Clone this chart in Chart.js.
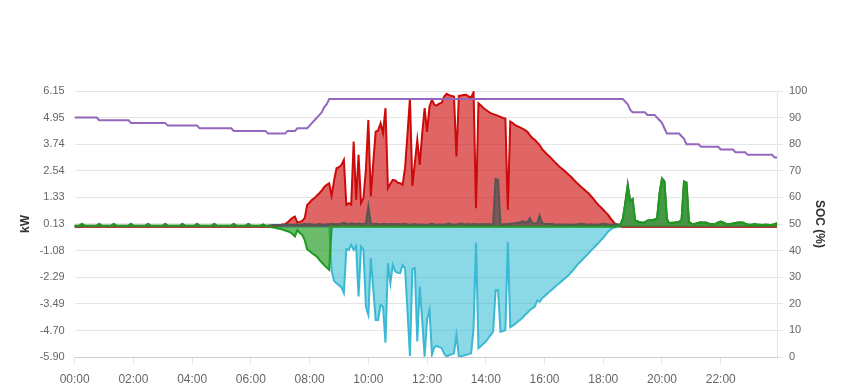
<!DOCTYPE html>
<html>
<head>
<meta charset="utf-8">
<script src="https://cdn.jsdelivr.net/npm/chart.js@4/dist/chart.umd.min.js"></script>
<style>
  html, body { margin: 0; padding: 0; background: #fff; }
</style>
</head>
<body>
<canvas id="chart" width="849" height="390"></canvas>
<script>
// 5 minute slots, 00:00 .. 23:55
const times = [];
for (let m = 0; m < 24 * 60; m += 5) {
    times.push(String(Math.floor(m / 60)).padStart(2, '0') + ':' + String(m % 60).padStart(2, '0'));
}

const hourTicks = ['00:00', '02:00', '04:00', '06:00', '08:00', '10:00', '12:00', '14:00', '16:00', '18:00', '20:00', '22:00'];
const kwTicks = [6.15, 4.95, 3.74, 2.54, 1.33, 0.13, -1.08, -2.29, -3.49, -4.70, -5.90];
const socTicks = [0, 10, 20, 30, 40, 50, 60, 70, 80, 90, 100];

// 电池 SOC (%)，一行一个小时
const soc = [
    90,90,90,90,90,90,90,90,90,90,89,89,
    89,89,89,89,89,89,89,89,89,89,89,88,
    88,88,88,88,88,88,88,88,88,88,88,88,
    88,88,87,87,87,87,87,87,87,87,87,87,
    87,87,87,86,86,86,86,86,86,86,86,86,
    86,86,86,86,86,85,85,85,85,85,85,85,
    85,85,85,85,85,85,85,84,84,84,84,84,
    84,84,84,85,85,85,85,86,86,86,86,86,
    87,88,89,90,91,92,94,95,97,97,97,97,
    97,97,97,97,97,97,97,97,97,97,97,97,
    97,97,97,97,97,97,97,97,97,97,97,97,
    97,97,97,97,97,97,97,97,97,97,97,97,
    97,97,97,97,97,97,97,97,97,97,97,97,
    97,97,97,97,97,97,97,97,97,97,97,97,
    97,97,97,97,97,97,97,97,97,97,97,97,
    97,97,97,97,97,97,97,97,97,97,97,97,
    97,97,97,97,97,97,97,97,97,97,97,97,
    97,97,97,97,97,97,97,97,97,97,97,97,
    97,97,97,97,97,97,97,97,97,96,95,93,
    92,92,92,92,92,92,91,91,91,91,90,89,
    88,86,84,84,84,84,84,84,83,82,80,80,
    80,80,80,80,79,79,79,79,79,79,79,79,
    78,78,78,78,78,78,77,77,77,77,77,76,
    76,76,76,76,76,76,76,76,76,76,75,75
];

// 光伏发电 (kW)
const pv = [
    0,0,0,0,0,0,0,0,0,0,0,0,
    0,0,0,0,0,0,0,0,0,0,0,0,
    0,0,0,0,0,0,0,0,0,0,0,0,
    0,0,0,0,0,0,0,0,0,0,0,0,
    0,0,0,0,0,0,0,0,0,0,0,0,
    0,0,0,0,0,0,0,0,0,0,0,0,
    0,0,0,0,0,0,0,0,0,0.02,0.04,0.06,
    0.07,0.1,0.12,0.2,0.31,0.4,0.46,0.19,0.22,0.26,0.39,0.99,
    1.1,1.22,1.3,1.42,1.52,1.65,1.8,1.9,1.97,1.4,2.1,2.65,
    2.7,2.8,3.03,0.99,1.07,1.0,3.86,1.22,3.26,1.07,1.3,2.58,
    4.84,1.37,2.9,4.31,4.36,4.69,4.24,5.37,1.75,1.95,2.12,2.1,
    2.0,1.97,1.9,2.65,4.2,5.83,1.85,2.9,3.94,2.8,4.2,5.37,
    4.3,5.45,5.75,5.52,5.5,5.58,5.62,5.9,6.02,5.96,5.93,5.9,
    3.18,5.93,5.95,5.97,5.98,5.9,5.85,6.1,0.84,5.6,5.5,5.38,
    5.3,5.22,5.15,5.1,5.07,5.02,4.98,4.93,4.9,0.77,4.77,4.7,
    4.6,4.55,4.5,4.45,4.38,4.3,4.15,4.02,3.94,3.82,3.7,3.52,
    3.4,3.28,3.18,3.07,2.95,2.84,2.73,2.64,2.55,2.45,2.35,2.24,
    2.12,2.01,1.9,1.8,1.71,1.61,1.52,1.39,1.26,1.12,0.99,0.88,
    0.77,0.65,0.54,0.38,0.24,0.12,0.06,0.02,0,0,0,0,
    0,0,0,0,0,0,0,0,0,0,0,0,
    0,0,0,0,0,0,0,0,0,0,0,0,
    0,0,0,0,0,0,0,0,0,0,0,0,
    0,0,0,0,0,0,0,0,0,0,0,0,
    0,0,0,0,0,0,0,0,0,0,0,0
];

// 电池充电 (kW, 负值)
const battery = [
    0,0,0,0,0,0,0,0,0,0,0,0,
    0,0,0,0,0,0,0,0,0,0,0,0,
    0,0,0,0,0,0,0,0,0,0,0,0,
    0,0,0,0,0,0,0,0,0,0,0,0,
    0,0,0,0,0,0,0,0,0,0,0,0,
    0,0,0,0,0,0,0,0,0,0,0,0,
    0,0,0,0,0,0,0,0,0,0,0,0,
    0,0,0,0,0,0,0,0,0,0,0,0,
    0,0,0,0,0,0,0,0,0,-2.0,-2.45,-2.56,
    -2.65,-2.75,-3.0,-1.01,-1.05,-0.82,-1.05,-0.87,-3.16,-0.9,-1.05,-3.62,
    -3.99,-1.42,-2.8,-4.22,-4.22,-3.54,-3.62,-5.25,-1.65,-2.56,-1.73,-2.03,
    -2.08,-2.1,-1.73,-1.88,-3.8,-5.85,-1.92,-1.88,-5.2,-2.71,-4.22,-5.88,
    -4.2,-3.77,-5.8,-5.45,-5.4,-5.45,-5.5,-5.75,-5.88,-5.82,-5.78,-5.73,
    -4.9,-5.88,-5.86,-5.83,-5.8,-5.77,-5.73,-4.62,-0.72,-5.5,-5.4,-5.3,
    -5.2,-5.05,-4.9,-4.75,-2.88,-2.86,-4.75,-4.72,-4.68,-0.7,-4.55,-4.48,
    -4.4,-4.3,-4.22,-4.12,-4.0,-3.9,-3.77,-3.7,-3.62,-3.35,-3.4,-3.24,
    -3.15,-3.05,-2.94,-2.85,-2.75,-2.65,-2.56,-2.47,-2.37,-2.28,-2.18,-2.05,
    -1.92,-1.78,-1.65,-1.55,-1.43,-1.32,-1.2,-1.08,-0.97,-0.85,-0.74,-0.62,
    -0.5,-0.36,-0.22,-0.12,-0.05,-0.02,0,0,0,0,0,0,
    0,0,0,0,0,0,0,0,0,0,0,0,
    0,0,0,0,0,0,0,0,0,0,0,0,
    0,0,0,0,0,0,0,0,0,0,0,0,
    0,0,0,0,0,0,0,0,0,0,0,0,
    0,0,0,0,0,0,0,0,0,0,0,0
];

// 电网 (kW, 正值买电, 负值卖电)
const grid = [
    0.05,0.05,0.05,0.13,0.05,0.05,0.05,0.05,0.05,0.05,0.13,0.05,
    0.05,0.05,0.05,0.05,0.13,0.05,0.05,0.05,0.05,0.05,0.05,0.13,
    0.05,0.05,0.05,0.05,0.05,0.05,0.13,0.05,0.05,0.05,0.05,0.05,
    0.05,0.13,0.05,0.05,0.05,0.05,0.05,0.05,0.13,0.05,0.05,0.05,
    0.05,0.05,0.13,0.05,0.05,0.05,0.05,0.05,0.05,0.13,0.05,0.05,
    0.05,0.05,0.05,0.05,0.05,0.13,0.05,0.05,0.05,0.05,0.05,0.13,
    0.05,0.05,0.05,0.05,0.05,0.1,0.04,0.02,0,-0.03,-0.05,-0.08,
    -0.1,-0.13,-0.17,-0.2,-0.25,-0.33,-0.44,-0.15,-0.28,-0.36,-0.6,-1.02,
    -1.1,-1.2,-1.28,-1.35,-1.5,-1.62,-1.75,-1.85,-1.95,0,0,0,
    0,0,0,0,0,0,0,0,0,0,0,0,
    0,0,0,0,0,0,0,0,0,0,0,0,
    0,0,0,0,0,0,0,0,0,0,0,0,
    0,0,0,0,0,0,0,0,0,0,0,0,
    0,0,0,0,0,0,0,0,0,0,0,0,
    0,0,0,0,0,0,0,0,0,0,0,0,
    0,0,0,0,0,0,0,0,0,0,0,0,
    0,0,0,0,0,0,0,0,0,0,0,0,
    0,0,0,0,0,0,0,0,0,0,0,0,
    0,0,0,0,0,0,0.04,0.1,0.35,1.05,1.85,1.15,
    1.25,0.28,0.25,0.2,0.18,0.2,0.28,0.3,0.3,0.33,0.38,1.5,
    2.18,2.05,0.35,0.15,0.18,0.18,0.2,0.22,0.3,2.05,2.0,0.22,
    0.14,0.13,0.15,0.18,0.2,0.18,0.19,0.15,0.12,0.12,0.14,0.2,
    0.24,0.2,0.14,0.13,0.13,0.15,0.17,0.19,0.19,0.19,0.14,0.1,
    0.09,0.1,0.12,0.09,0.09,0.08,0.09,0.09,0.08,0.09,0.12,0.16
];

// 家庭负载 (kW)
const load = [
    0.05,0.05,0.05,0.13,0.05,0.05,0.05,0.05,0.05,0.05,0.13,0.05,
    0.05,0.05,0.05,0.05,0.13,0.05,0.05,0.05,0.05,0.05,0.05,0.13,
    0.05,0.05,0.05,0.05,0.05,0.05,0.13,0.05,0.05,0.05,0.05,0.05,
    0.05,0.13,0.05,0.05,0.05,0.05,0.05,0.05,0.13,0.05,0.05,0.05,
    0.05,0.05,0.13,0.05,0.05,0.05,0.05,0.05,0.05,0.13,0.05,0.05,
    0.05,0.05,0.05,0.05,0.05,0.13,0.05,0.05,0.05,0.05,0.05,0.13,
    0.05,0.05,0.05,0.05,0.05,0.1,0.05,0.06,0.07,0.08,0.08,0.08,
    0.08,0.09,0.08,0.1,0.09,0.08,0.1,0.09,0.08,0.1,0.12,0.1,
    0.12,0.1,0.09,0.1,0.12,0.1,0.09,0.1,0.12,0.14,0.1,0.12,
    0.1,0.15,0.18,0.14,0.12,0.16,0.13,0.12,0.15,0.12,0.14,0.15,
    0.92,0.15,0.12,0.14,0.12,0.1,0.13,0.12,0.1,0.12,0.11,0.13,
    0.12,0.1,0.12,0.14,0.1,0.09,0.1,0.12,0.1,0.09,0.1,0.08,
    0.09,0.1,0.14,0.1,0.08,0.1,0.09,0.1,0.12,0.15,0.1,0.09,
    0.1,0.13,0.15,0.12,0.1,0.12,0.1,0.12,0.11,0.1,0.12,0.11,
    0.1,0.12,0.1,0.12,2.16,2.14,0.12,0.1,0.12,0.11,0.14,0.15,
    0.15,0.18,0.2,0.25,0.22,0.2,0.39,0.16,0.15,0.16,0.5,0.16,
    0.14,0.12,0.13,0.12,0.1,0.09,0.1,0.1,0.09,0.09,0.1,0.09,
    0.09,0.1,0.12,0.14,0.12,0.1,0.09,0.1,0.09,0.09,0.1,0.12,
    0.14,0.12,0.1,0.09,0.1,0.12,0.1,0.12,0.36,1.08,1.92,1.17,
    1.25,0.28,0.25,0.2,0.18,0.2,0.28,0.3,0.3,0.33,0.38,1.5,
    2.18,2.05,0.35,0.15,0.18,0.18,0.2,0.22,0.3,2.05,2.0,0.22,
    0.14,0.13,0.15,0.18,0.2,0.18,0.19,0.15,0.12,0.12,0.14,0.2,
    0.24,0.2,0.14,0.13,0.13,0.15,0.17,0.19,0.19,0.19,0.14,0.1,
    0.09,0.1,0.12,0.09,0.09,0.08,0.09,0.09,0.08,0.09,0.12,0.16
];

Chart.defaults.font.family = "Arial, 'Liberation Sans', sans-serif";
Chart.defaults.color = '#666';

const ctx = document.getElementById('chart').getContext('2d');
new Chart(ctx, {
    type: 'line',
    data: {
        labels: times,
        // 数组前面的数据集画在最上层
        datasets: [
            { label: 'SOC', data: soc, yAxisID: 'ySoc', borderColor: '#9467bd', fill: false },
            { label: 'Grid', data: grid, yAxisID: 'yKw', borderColor: '#1e9b1e', backgroundColor: 'rgba(44,160,44,0.7)', fill: 'origin' },
            { label: 'Load', data: load, yAxisID: 'yKw', borderColor: '#555555', backgroundColor: 'rgba(80,80,80,0.7)', fill: 'origin' },
            { label: 'PV', data: pv, yAxisID: 'yKw', borderColor: '#cc0a0a', backgroundColor: 'rgba(204,0,0,0.6)', fill: 'origin' },
            { label: 'Battery', data: battery, yAxisID: 'yKw', borderColor: '#3bb9d3', backgroundColor: 'rgba(23,178,207,0.5)', fill: 'origin' }
        ]
    },
    options: {
        responsive: false,
        animation: false,
        layout: { padding: { top: 91, left: 0, right: 0, bottom: 0 } },
        elements: {
            point: { radius: 0 },
            line: { borderWidth: 2, tension: 0 }
        },
        plugins: {
            legend: { display: false },
            tooltip: { enabled: false }
        },
        scales: {
            x: {
                offset: false,
                afterBuildTicks: scale => {
                    scale.ticks = scale.ticks.filter(t => hourTicks.includes(times[t.value]));
                },
                afterFit: scale => { scale.height = 33; },
                ticks: { autoSkip: false, maxRotation: 0, font: { size: 12 }, padding: 8 },
                grid: { drawOnChartArea: false, drawTicks: true, tickLength: 7, color: 'rgba(0,0,0,0.1)' },
                border: { display: true, color: 'rgba(0,0,0,0.1)' }
            },
            yKw: {
                position: 'left',
                min: -5.9,
                max: 6.15,
                afterBuildTicks: scale => {
                    scale.ticks = kwTicks.map(v => ({ value: v }));
                },
                afterFit: scale => { scale.width = 74.7; },
                ticks: { font: { size: 11 }, padding: 10, callback: v => v.toFixed(2) },
                grid: { color: 'rgba(0,0,0,0.1)', drawTicks: false },
                border: { display: false },
                title: { display: true, text: 'kW', color: '#333', font: { size: 12, weight: 'bold' }, padding: { top: 18, bottom: 0 } }
            },
            ySoc: {
                position: 'right',
                min: 0,
                max: 100,
                afterBuildTicks: scale => {
                    scale.ticks = socTicks.map(v => ({ value: v }));
                },
                afterFit: scale => { scale.width = 72; },
                ticks: { font: { size: 11 }, padding: 6 },
                grid: { drawOnChartArea: false, drawTicks: true, tickLength: 6, color: 'rgba(0,0,0,0.1)' },
                border: { display: true, color: 'rgba(0,0,0,0.1)' },
                title: { display: true, text: 'SOC (%)', color: '#333', font: { size: 12, weight: 'bold' }, padding: { top: 22, bottom: 0 } }
            }
        }
    }
});
</script>
</body>
</html>
